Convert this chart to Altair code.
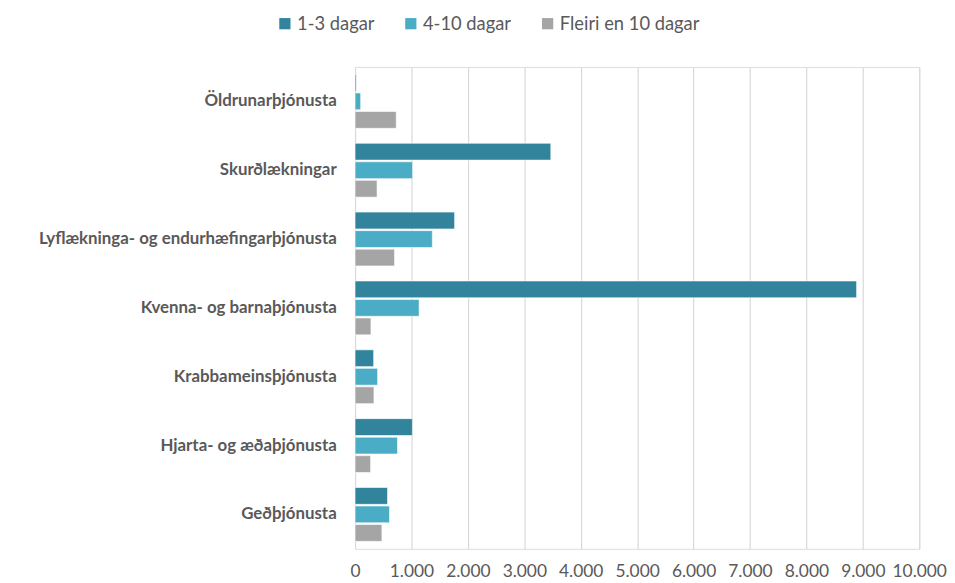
import altair as alt
import pandas as pd

categories = [
    "Öldrunarþjónusta",
    "Skurðlækningar",
    "Lyflækninga- og endurhæfingarþjónusta",
    "Kvenna- og barnaþjónusta",
    "Krabbameinsþjónusta",
    "Hjarta- og æðaþjónusta",
    "Geðþjónusta",
]
series_names = ["1-3 dagar", "4-10 dagar", "Fleiri en 10 dagar"]
s_1_3 = [20, 3470, 1765, 8890, 330, 1017, 576]
s_4_10 = [100, 1020, 1370, 1135, 400, 752, 611]
s_10p = [730, 390, 700, 282, 335, 276, 476]
colors = ["#31849B", "#4BACC6", "#A5A5A5"]
x_ticks = [0, 1000, 2000, 3000, 4000, 5000, 6000, 7000, 8000, 9000, 10000]

rows = []
for name, vals in zip(series_names, [s_1_3, s_4_10, s_10p]):
    for c, v in zip(categories, vals):
        rows.append({"Deild": c, "Flokkur": name, "Fjöldi": v})
df = pd.DataFrame(rows)

FONT = "Lato"

chart = alt.Chart(df).mark_bar(stroke="white", strokeWidth=0.6).encode(
    y=alt.Y(
        "Deild:N",
        sort=categories,
        scale=alt.Scale(paddingInner=0.2176, paddingOuter=0.1088),
        axis=alt.Axis(
            title=None, ticks=False, domain=False, labelFontWeight="bold",
            labelFontSize=17, labelColor="#595959", labelPadding=19,
            labelFont=FONT, labelLimit=400,
        ),
    ),
    yOffset=alt.YOffset(
        "Flokkur:N", sort=series_names,
        scale=alt.Scale(paddingInner=0.09, paddingOuter=0),
    ),
    x=alt.X(
        "Fjöldi:Q",
        scale=alt.Scale(domain=[0, 10000], nice=False),
        axis=alt.Axis(
            title=None, values=x_ticks, ticks=False, domain=False,
            grid=True, gridColor="#D9D9D9", gridWidth=1.2,
            labelFontSize=17.5, labelColor="#595959", labelPadding=14,
            labelFont=FONT, labelFlush=False,
            labelExpr="replace(format(datum.value, ','), ',', '.')",
        ),
    ),
    color=alt.Color(
        "Flokkur:N",
        sort=series_names,
        scale=alt.Scale(domain=series_names, range=colors),
        legend=alt.Legend(
            title=None, orient="none", direction="horizontal",
            legendX=-80, legendY=-53,
            symbolType="square", symbolSize=128, symbolStrokeWidth=0,
            labelFontSize=18.5, labelColor="#595959", labelFont=FONT,
            labelOffset=3, columnPadding=27, symbolOpacity=1,
        ),
    ),
).properties(
    width=569,
    height=486,
    autosize=alt.AutoSizeParams(type="none"),
    padding={"left": 350, "top": 57, "right": 28, "bottom": 32},
).configure_view(stroke=None).configure(background="white")

chart.save("out.html", embed_options={"renderer": "svg", "actions": False})
